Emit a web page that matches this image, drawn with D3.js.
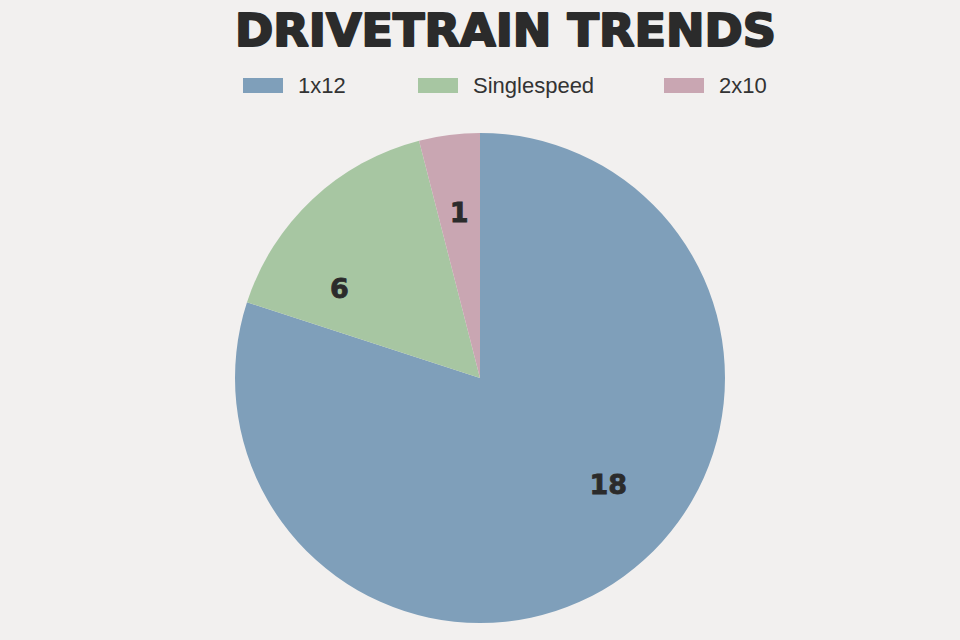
<!DOCTYPE html>
<html>
<head>
<meta charset="utf-8">
<script src="https://cdn.jsdelivr.net/npm/d3@7"></script>
<style>
  html, body { margin: 0; padding: 0; background: #f2f0ef; }
  svg { display: block; }
</style>
</head>
<body>
<div id="chart"></div>
<script>
const categories = ["1x12", "Singlespeed", "2x10"];
// slice shares as drawn in the picture (percent of the circle)
const sliceShares = [80, 16, 4];
// counts printed on the slices
const counts = [18, 6, 1];
const colors = ["#7f9fba", "#a7c6a2", "#c9a6b2"];

const width = 960;
const height = 640;
const cx = 480;
const cy = 378;
const radius = 245;

const svg = d3.select("#chart")
  .append("svg")
  .attr("width", width)
  .attr("height", height);

svg.append("rect")
  .attr("width", width)
  .attr("height", height)
  .attr("fill", "#f2f0ef");

// Title
svg.append("text")
  .attr("x", 505.5)
  .attr("y", 46)
  .attr("text-anchor", "middle")
  .attr("font-family", "'DejaVu Sans', sans-serif")
  .attr("font-weight", "bold")
  .attr("font-size", 44)
  .attr("textLength", 541)
  .attr("lengthAdjust", "spacingAndGlyphs")
  .attr("fill", "#2b2b2b")
  .attr("stroke", "#2b2b2b")
  .attr("stroke-width", 2)
  .attr("stroke-linejoin", "round")
  .text("DRIVETRAIN TRENDS");

// Legend
const legendX = [243, 418, 664];
const legend = svg.append("g")
  .selectAll("g")
  .data(categories)
  .join("g")
  .attr("transform", (d, i) => `translate(${legendX[i]},78)`);

legend.append("rect")
  .attr("width", 40)
  .attr("height", 15)
  .attr("fill", (d, i) => colors[i]);

legend.append("text")
  .attr("x", 55)
  .attr("y", 15)
  .attr("font-family", "'Liberation Sans', Arial, sans-serif")
  .attr("font-size", 22)
  .attr("fill", "#333")
  .text(d => d);

// Pie
const pie = d3.pie().sort(null).value(d => d);
const arcs = pie(sliceShares);
const labelArcs = pie(counts);
const arc = d3.arc().innerRadius(0).outerRadius(radius);
const labelArc = d3.arc().innerRadius(radius * 0.68).outerRadius(radius * 0.68);

const g = svg.append("g").attr("transform", `translate(${cx},${cy})`);

g.selectAll("path")
  .data(arcs)
  .join("path")
  .attr("d", arc)
  .attr("fill", (d, i) => colors[i]);

g.selectAll(".slice-label")
  .data(labelArcs)
  .join("text")
  .attr("class", "slice-label")
  .attr("transform", d => `translate(${labelArc.centroid(d)})`)
  .attr("text-anchor", "middle")
  .attr("dy", "0.35em")
  .attr("font-family", "'DejaVu Sans', sans-serif")
  .attr("font-weight", "bold")
  .attr("font-size", 27)
  .attr("fill", "#2b2b2b")
  .attr("stroke", "#2b2b2b")
  .attr("stroke-width", 0.8)
  .text(d => d.data);
</script>
</body>
</html>
